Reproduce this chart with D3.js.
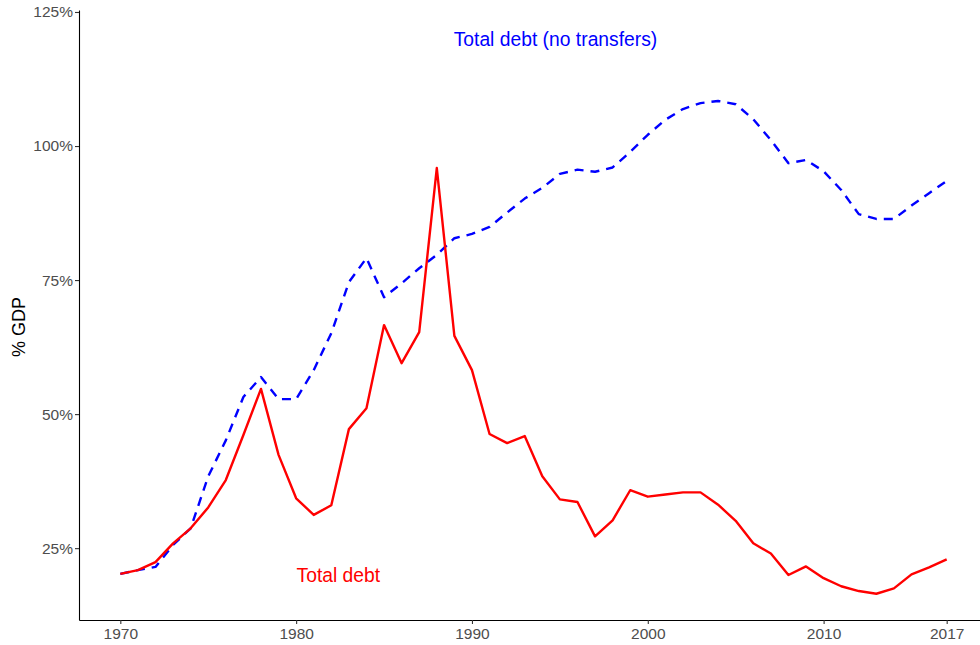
<!DOCTYPE html>
<html>
<head>
<meta charset="utf-8">
<script src="https://cdn.jsdelivr.net/npm/d3@7"></script>
<style>
  body { margin: 0; background: #fff; }
  text { font-family: "Liberation Sans", Arial, sans-serif; }
</style>
</head>
<body>
<svg id="svg1"></svg>
<script>

// data (% of GDP)
var years = d3.range(1970, 2018);
var totalDebt = [20.2, 20.9, 22.4, 25.9, 28.7, 32.6, 37.7, 46.1, 54.7, 42.4,
  34.3, 31.2, 33.0, 47.2, 51.1, 66.6, 59.5, 65.3, 95.9, 64.6,
  58.2, 46.3, 44.6, 45.9, 38.4, 34.1, 33.6, 27.2, 30.2, 35.8,
  34.6, 35.0, 35.4, 35.4, 33.1, 30.1, 25.9, 24.0, 20.0, 21.6,
  19.4, 17.9, 17.0, 16.5, 17.5, 20.1, 21.4, 22.9];
var noTransfers = [20.2, 20.9, 21.5, 25.6, 28.7, 38.4, 45.1, 53.2, 56.9, 52.8,
  52.8, 58.2, 65.1, 74.6, 79.1, 71.8, 74.4, 77.2, 79.7, 82.8,
  83.6, 84.9, 87.6, 90.2, 92.2, 94.8, 95.6, 95.2, 96.0, 98.9,
  102.1, 104.9, 106.9, 108.0, 108.4, 107.8, 105.0, 101.1, 96.8, 97.4,
  95.3, 91.8, 87.3, 86.4, 86.4, 88.9, 91.2, 93.5];
var xTicks = [1970, 1980, 1990, 2000, 2010, 2017];
var yTicks = [25, 50, 75, 100, 125];

var width = 980;
var height = 645;

var svg = d3.select("#svg1")
    .attr("width", width)
    .attr("height", height);

var x = d3.scaleLinear()
    .domain([1970 - 2.35, 2017 + 2.35])
    .range([79, 988]);

var y = d3.scaleLinear()
    .domain([11.6, 125.37])
    .range([620, 10]);

// x axis
var xAxis = svg.append("g")
    .attr("transform", "translate(0,620)")
    .call(d3.axisBottom(x).tickValues(xTicks).tickFormat(d3.format("d")).tickSize(4).tickSizeOuter(0));
xAxis.select(".domain").attr("stroke", "#000").attr("stroke-width", 1.1);
xAxis.selectAll(".tick line").attr("stroke", "#333").attr("stroke-width", 1.1);
xAxis.selectAll(".tick text").attr("fill", "#4d4d4d").style("font-size", "15.5px").attr("dy", "0.71em").attr("y", 8);

// y axis
var yAxis = svg.append("g")
    .attr("transform", "translate(79,0)")
    .call(d3.axisLeft(y).tickValues(yTicks).tickFormat(function(d) { return d + "%"; }).tickSize(4).tickSizeOuter(0));
yAxis.select(".domain").attr("stroke", "#000").attr("stroke-width", 1.1);
yAxis.selectAll(".tick line").attr("stroke", "#333").attr("stroke-width", 1.1);
yAxis.selectAll(".tick text").attr("fill", "#4d4d4d").style("font-size", "15.5px").attr("x", -6);

svg.append("text")
    .attr("transform", "translate(25,327) rotate(-90)")
    .attr("text-anchor", "middle")
    .style("font-size", "18px")
    .attr("fill", "#000")
    .text("% GDP");

var line = function(vals) {
  return d3.line()
    .x(function(d, i) { return x(years[i]); })
    .y(function(d) { return y(d); })(vals);
};

svg.append("path")
    .attr("d", line(noTransfers))
    .attr("fill", "none")
    .attr("stroke", "#0000ff")
    .attr("stroke-width", 2.4)
    .attr("stroke-dasharray", "9,7")
    .attr("stroke-linejoin", "round");

svg.append("path")
    .attr("d", line(totalDebt))
    .attr("fill", "none")
    .attr("stroke", "#ff0000")
    .attr("stroke-width", 2.4)
    .attr("stroke-linejoin", "round");

svg.append("text")
    .attr("x", x(1994.75))
    .attr("y", y(118.6))
    .attr("text-anchor", "middle")
    .style("font-size", "19.3px")
    .attr("fill", "#0000ff")
    .text("Total debt (no transfers)");

svg.append("text")
    .attr("x", x(1982.4))
    .attr("y", y(18.7))
    .attr("text-anchor", "middle")
    .style("font-size", "19.3px")
    .attr("fill", "#ff0000")
    .text("Total debt");

</script>
</body>
</html>
